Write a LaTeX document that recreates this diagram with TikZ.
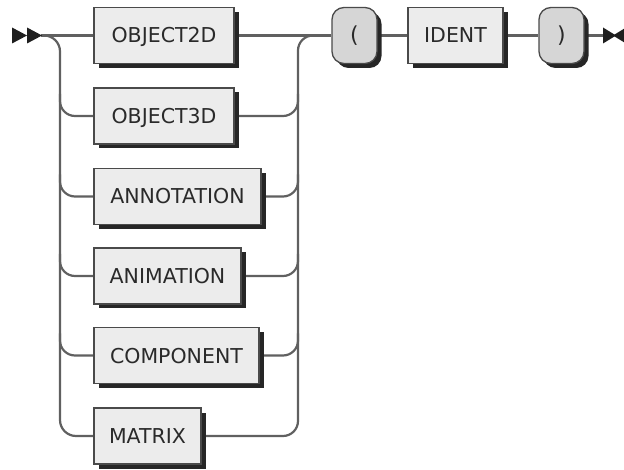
\documentclass[tikz,border=0pt]{standalone}
\usepackage{fontspec}
\setmainfont{DejaVu Sans}
\usetikzlibrary{shadows}
\pgfdeclarelayer{background}
\pgfsetlayers{background,main}

\definecolor{railgray}{HTML}{606060}
\definecolor{boxedge}{HTML}{4A4A4A}
\definecolor{ntfill}{HTML}{ECECEC}
\definecolor{tfill}{HTML}{D6D6D6}
\definecolor{shadowdark}{HTML}{262626}
\definecolor{textdark}{HTML}{2A2A2A}
\definecolor{markdark}{HTML}{1E1E1E}

\begin{document}
\begin{tikzpicture}[x=1pt,y=-1pt,
  rail/.style={draw=railgray, line width=2.2pt},
  ntbox/.style={draw=boxedge, fill=ntfill, line width=1.3pt,
    minimum height=56pt, inner sep=0pt, text=textdark,
    font=\fontsize{20.5}{24}\selectfont, text height=15pt, text depth=0pt,
    drop shadow={shadow xshift=4.5pt, shadow yshift=-4.5pt, fill=shadowdark, opacity=1}},
  tbox/.style={ntbox, fill=tfill, rounded corners=12pt, minimum width=45pt,
    font=\fontsize{22}{26}\selectfont},
  marker/.style={fill=markdark, draw=none},
]
\useasboundingbox (0,0) rectangle (624,470);

% choice boxes
\node[ntbox, minimum width=140pt] (obj2d) at (164,35.5) {OBJECT2D};
\node[ntbox, minimum width=140pt] (obj3d) at (164,116) {OBJECT3D};
\node[ntbox, minimum width=167pt] (annot) at (177.5,196.5) {ANNOTATION};
\node[ntbox, minimum width=147pt] (anim) at (167.5,276) {ANIMATION};
\node[ntbox, minimum width=165pt] (comp) at (176.5,355.5) {COMPONENT};
\node[ntbox, minimum width=107pt] (matrix) at (147.5,436) {MATRIX};

% tail of the rule
\node[tbox] (lpar) at (354.5,35.5) {(};
\node[ntbox, minimum width=95pt] (ident) at (455.5,35.5) {IDENT};
\node[tbox] (rpar) at (561.5,35.5) {)};

% rail anchors
\coordinate (start) at (41,35.5);
\coordinate (lrail) at (60,35.5);
\coordinate (rrail) at (298,35.5);
\coordinate (finish) at (603,35.5);

% start and end markers
\fill[marker] (12,27.5) -- (27,35.5) -- (12,43.5) -- cycle;
\fill[marker] (27,27.5) -- (42,35.5) -- (27,43.5) -- cycle;
\fill[marker] (finish) ++(0,-8) -- ++(13,8) -- ++(-13,8) -- cycle;
\fill[marker] (626,27.5) -- (613,35.5) -- (626,43.5) -- cycle;

\begin{pgfonlayer}{background}
  % main line
  \draw[rail] (start) -- (obj2d.west);
  \draw[rail] (obj2d.east) -- (lpar.west);
  \draw[rail] (lpar.east) -- (ident.west);
  \draw[rail] (ident.east) -- (rpar.west);
  \draw[rail] (rpar.east) -- (finish);
  % left rail
  \draw[rail, rounded corners=16pt] (start) -- (lrail) -- (lrail |- matrix.west) -- (matrix.west);
  \foreach \b in {obj3d,annot,anim,comp}
    \draw[rail, rounded corners=15pt] ([yshift=22pt]lrail |- \b.west) -- (lrail |- \b.west) -- (\b.west);
  % right rail
  \draw[rail, rounded corners=15pt] (matrix.east) -- (rrail |- matrix.east) -- (rrail) -- ([xshift=18pt]rrail);
  \foreach \b in {obj3d,annot,anim,comp}
    \draw[rail, rounded corners=15pt] (\b.east) -- (rrail |- \b.east) -- ([yshift=22pt]rrail |- \b.east);
\end{pgfonlayer}
\end{tikzpicture}
\end{document}
